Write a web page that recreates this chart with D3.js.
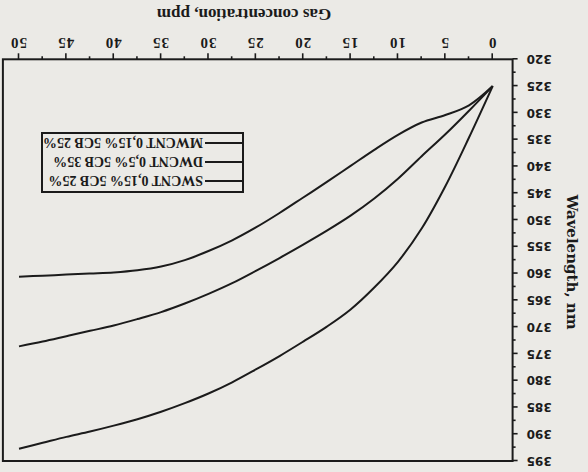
<!DOCTYPE html>
<html><head><meta charset="utf-8">
<script src="https://cdn.jsdelivr.net/npm/d3@7"></script>
<style>
html,body{margin:0;padding:0;background:#ebeae6;}
svg{display:block;}
</style></head>
<body>
<svg id="chart" width="588" height="472"></svg>
<script>
// ---- data ----
const concentration = [0,2.5,5,7.5,10,12.5,15,17.5,20,22.5,25,27.5,30,32.5,35,37.5,40,42.5,45,47.5,50];
const swcnt = [325,334.6,343.7,351.6,357.8,362.6,366.7,369.9,372.7,375.4,377.9,380.3,382.4,384.2,385.8,387.2,388.4,389.5,390.5,391.6,392.7];
const dwcnt = [325,329.6,334.0,338.1,342.3,346.0,349.2,352.0,354.6,357.1,359.5,361.8,363.8,365.6,367.2,368.5,369.7,370.7,371.7,372.7,373.6];
const mwcnt = [325,328.6,330.4,331.8,334.1,336.9,339.9,342.9,345.8,348.7,351.4,353.8,355.8,357.5,358.7,359.4,359.8,360.0,360.2,360.4,360.6];
const seriesNames = ["SWCNT 0,15% 5CB 25%","DWCNT 0,5% 5CB 35%","MWCNT 0,15% 5CB 25%"];
const xTicks = [0,5,10,15,20,25,30,35,40,45,50];
const xMinorTicks = [2.5,7.5,12.5,17.5,22.5,27.5,32.5,37.5,42.5,47.5];
const yTicks = [320,325,330,335,340,345,350,355,360,365,370,375,380,385,390,395];
const yMinorTicks = [322.5,327.5,332.5,337.5,342.5,347.5,352.5,357.5,362.5,367.5,372.5,377.5,382.5,387.5,392.5];
const xTitle = "Gas concentration, ppm";
const yTitle = "Wavelength, nm";

const ink = "#1b1b1b";
const svg = d3.select("#chart");
// whole printed page photographed upside down
const root = svg.append("g").attr("transform","rotate(180 294 236)");

const x = d3.scaleLinear().domain([0,50]).range([95.3,569]);
const y = d3.scaleLinear().domain([320,395]).range([412.7,11]);
const frameX = [x(-2.1), x(51.7)];

// frame
root.append("rect")
  .attr("x",frameX[0]).attr("y",y(395))
  .attr("width",frameX[1]-frameX[0]).attr("height",y(320)-y(395))
  .attr("fill","none").attr("stroke",ink).attr("stroke-width",2);

// x axis
const gx = root.append("g").attr("transform",`translate(0,${y(320)})`);
gx.call(d3.axisBottom(x).tickValues(xTicks).tickSize(6).tickPadding(5).tickFormat(d3.format("d")));
const gxm = root.append("g").attr("transform",`translate(0,${y(320)})`);
gxm.call(d3.axisBottom(x).tickValues(xMinorTicks).tickSize(3).tickFormat(""));
[gx,gxm].forEach(g=>{g.select(".domain").remove();g.selectAll("line").attr("stroke",ink).attr("stroke-width",1.6);});
gx.selectAll("text").attr("fill",ink).style("font-family","'Liberation Serif',serif")
  .style("font-size","15px").style("font-weight","bold").attr("letter-spacing","1px");

// y axis
const gy = root.append("g").attr("transform",`translate(${frameX[0]},0)`);
gy.call(d3.axisLeft(y).tickValues(yTicks).tickSize(5).tickPadding(9).tickFormat(d3.format("d")));
const gym = root.append("g").attr("transform",`translate(${frameX[0]},0)`);
gym.call(d3.axisLeft(y).tickValues(yMinorTicks).tickSize(3).tickFormat(""));
[gy,gym].forEach(g=>{g.select(".domain").remove();g.selectAll("line").attr("stroke",ink).attr("stroke-width",1.6);});
gy.selectAll("text").attr("fill",ink).style("font-family","'DejaVu Sans',sans-serif")
  .style("font-size","12px").style("font-weight","bold");

// titles
root.append("text").attr("x",344).attr("y",463).attr("text-anchor","middle")
  .attr("fill",ink).style("font-family","'Liberation Serif',serif").style("font-size","17px").style("font-weight","bold")
  .text(xTitle);
root.append("text").attr("transform",`translate(21,${210}) rotate(-90)`).attr("text-anchor","middle")
  .attr("fill",ink).style("font-family","'DejaVu Serif',serif").style("font-size","15px").style("font-weight","bold")
  .text(yTitle);

// curves
const line = d3.line().x((d,i)=>x(concentration[i])).y(d=>y(d)).curve(d3.curveCatmullRom.alpha(0.5));
[swcnt,dwcnt,mwcnt].forEach(s=>{
  root.append("path").datum(s).attr("d",line).attr("fill","none").attr("stroke",ink).attr("stroke-width",2);
});

// legend
const lg = root.append("g");
lg.append("rect").attr("x",345).attr("y",280).attr("width",201).attr("height",59)
  .attr("fill","none").attr("stroke",ink).attr("stroke-width",2);
seriesNames.forEach((n,i)=>{
  const yy = 291 + i*19;
  lg.append("line").attr("x1",346).attr("x2",383).attr("y1",yy).attr("y2",yy).attr("stroke",ink).attr("stroke-width",2);
  lg.append("text").attr("x",385).attr("y",yy+5).attr("fill",ink)
    .style("font-family","'Liberation Serif',serif").style("font-size","14px").style("font-weight","bold").text(n);
});
</script>
</body></html>
